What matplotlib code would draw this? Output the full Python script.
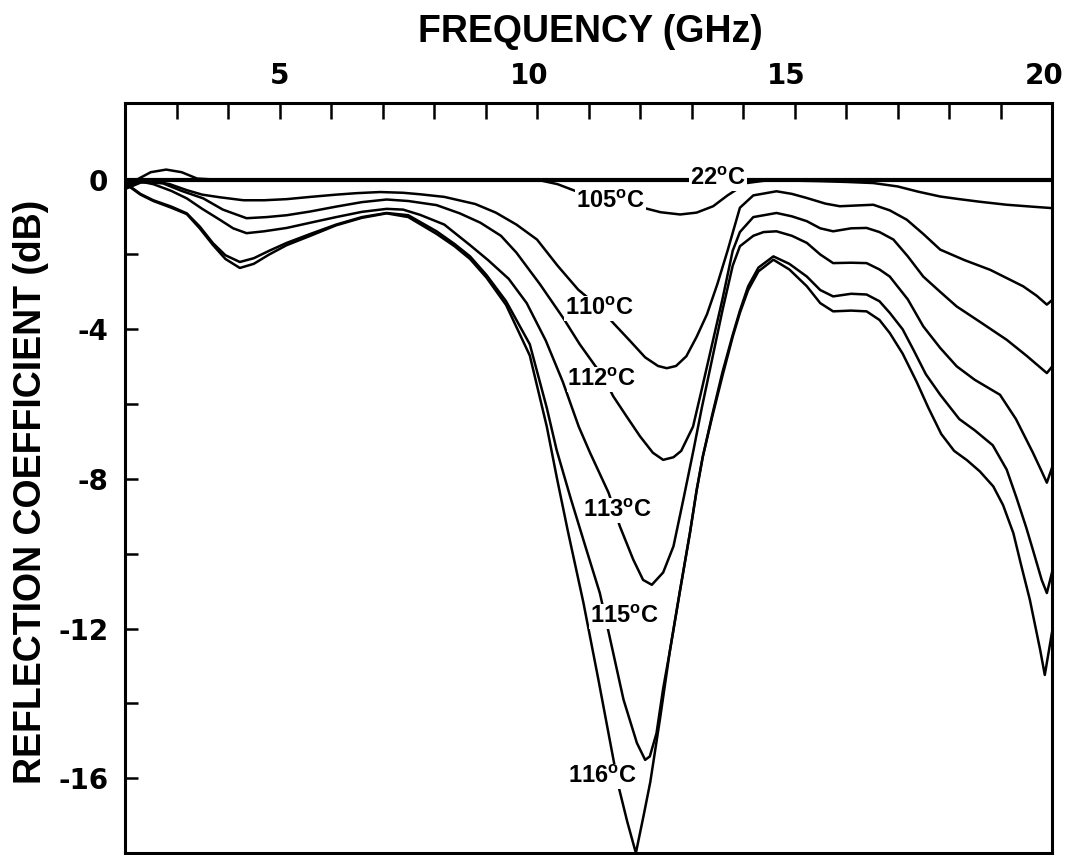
import matplotlib
matplotlib.use("Agg")
import matplotlib.pyplot as plt
import matplotlib.transforms as mtransforms
from matplotlib.ticker import FixedLocator, FixedFormatter, NullFormatter

plt.rcParams['mathtext.fontset'] = 'custom'
plt.rcParams['mathtext.rm'] = 'Liberation Sans'
plt.rcParams['mathtext.bf'] = 'Liberation Sans:bold'

# ---------------- data (frequency in GHz, reflection coefficient in dB) ----------------
f_22 = [2.0, 5.0, 10.0, 15.0, 20.0]
db_22 = [0.0, 0.0, 0.0, 0.0, 0.0]

f_105 = [2.0, 2.2, 2.5, 2.8, 3.1, 3.4, 3.8, 5.0, 7.0, 9.0, 9.8, 10.1, 10.4, 10.78, 11.1,
         11.42, 11.75, 12.06, 12.4, 12.78, 13.1, 13.42, 13.7, 14.07, 14.4, 14.8, 15.5,
         16.0, 16.53, 17.0, 17.4, 17.83, 18.2, 18.6, 19.12, 19.6, 20.0]
db_105 = [-0.15, -0.02, 0.2, 0.27, 0.2, 0.03, 0.0, 0.0, 0.0, 0.0, 0.0, -0.03, -0.12, -0.32,
          -0.44, -0.56, -0.66, -0.75, -0.87, -0.93, -0.88, -0.71, -0.42, -0.09, -0.03,
          -0.02, -0.04, -0.06, -0.09, -0.18, -0.32, -0.45, -0.52, -0.59, -0.67, -0.72, -0.76]

f_110 = [2.0, 2.3, 2.6, 2.87, 3.2, 3.5, 3.84, 4.3, 4.7, 5.14, 5.6, 6.1, 6.5, 6.95, 7.4,
         7.73, 8.2, 8.8, 9.2, 9.6, 10.0, 10.4, 10.8, 11.2, 11.48, 11.8, 12.1, 12.35, 12.52,
         12.7, 12.9, 13.1, 13.3, 13.5, 13.7, 13.94, 14.2, 14.65, 14.95, 15.24, 15.6, 15.88,
         16.2, 16.53, 16.85, 17.18, 17.5, 17.83, 18.3, 18.8, 19.44, 19.7, 19.9, 20.0]
db_110 = [-0.25, -0.08, -0.05, -0.12, -0.28, -0.4, -0.47, -0.55, -0.55, -0.52, -0.46, -0.4,
          -0.36, -0.33, -0.35, -0.39, -0.46, -0.65, -0.88, -1.2, -1.6, -2.3, -2.94, -3.4,
          -3.83, -4.3, -4.75, -4.98, -5.04, -4.98, -4.72, -4.2, -3.6, -2.8, -1.9, -0.75,
          -0.42, -0.31, -0.38, -0.49, -0.64, -0.71, -0.69, -0.67, -0.82, -1.07, -1.45,
          -1.87, -2.15, -2.41, -2.85, -3.1, -3.34, -3.22]

f_112 = [2.0, 2.3, 2.74, 3.1, 3.52, 3.9, 4.36, 4.75, 5.14, 5.6, 6.1, 6.6, 7.08, 7.5, 8.05,
         8.5, 8.9, 9.3, 9.6, 10.06, 10.51, 10.83, 11.09, 11.3, 11.48, 11.75, 12.0, 12.25,
         12.45, 12.65, 12.8, 13.03, 13.2, 13.4, 13.6, 13.8, 13.94, 14.2, 14.65, 14.95, 15.24,
         15.5, 15.75, 16.1, 16.4, 16.65, 16.92, 17.2, 17.5, 17.83, 18.15, 18.6, 19.12, 19.5,
         19.9, 20.0]
db_112 = [-0.18, -0.05, -0.1, -0.3, -0.5, -0.8, -1.03, -1.0, -0.95, -0.85, -0.72, -0.6,
          -0.53, -0.57, -0.68, -0.9, -1.15, -1.5, -1.95, -2.8, -3.7, -4.4, -4.9, -5.3, -5.79,
          -6.35, -6.86, -7.3, -7.49, -7.42, -7.25, -6.6, -5.6, -4.4, -3.2, -1.9, -1.4, -1.0,
          -0.89, -0.98, -1.11, -1.3, -1.38, -1.3, -1.29, -1.4, -1.6, -2.05, -2.59, -3.0,
          -3.39, -3.8, -4.28, -4.7, -5.17, -5.0]

f_113 = [2.0, 2.3, 2.55, 2.9, 3.2, 3.5, 3.84, 4.1, 4.36, 4.7, 5.14, 5.6, 6.1, 6.6, 7.08,
         7.4, 7.73, 8.2, 8.7, 9.05, 9.45, 9.8, 10.17, 10.5, 10.81, 11.03, 11.39, 11.61,
         11.87, 12.06, 12.23, 12.45, 12.65, 12.84, 13.04, 13.2, 13.4, 13.6, 13.8, 13.94,
         14.2, 14.4, 14.65, 14.95, 15.24, 15.5, 15.75, 16.1, 16.4, 16.65, 16.85, 17.2, 17.5,
         17.83, 18.15, 18.5, 18.99, 19.3, 19.63, 19.8, 19.9, 20.0]
db_113 = [-0.12, -0.05, -0.12, -0.3, -0.5, -0.78, -1.07, -1.3, -1.43, -1.38, -1.29, -1.15,
          -1.0, -0.86, -0.78, -0.8, -0.94, -1.2, -1.75, -2.15, -2.65, -3.3, -4.3, -5.4,
          -6.6, -7.3, -8.37, -9.27, -10.16, -10.7, -10.83, -10.5, -9.8, -8.56, -7.22, -6.1,
          -4.8, -3.5, -2.3, -1.78, -1.5, -1.4, -1.38, -1.5, -1.69, -2.0, -2.23, -2.22,
          -2.23, -2.4, -2.59, -3.2, -3.92, -4.5, -4.99, -5.35, -5.75, -6.4, -7.3, -7.8,
          -8.1, -7.7]

f_115 = [2.0, 2.1, 2.3, 2.55, 2.9, 3.2, 3.45, 3.71, 3.95, 4.23, 4.5, 4.8, 5.14, 5.6, 6.1,
         6.6, 7.08, 7.5, 8.05, 8.4, 8.7, 9.02, 9.4, 9.86, 10.19, 10.38, 10.65, 10.95, 11.22,
         11.38, 11.68, 11.94, 12.1, 12.19, 12.32, 12.45, 12.58, 12.78, 12.97, 13.1, 13.22,
         13.4, 13.6, 13.8, 13.94, 14.1, 14.3, 14.59, 14.9, 15.24, 15.5, 15.75, 16.1, 16.4,
         16.65, 16.85, 17.1, 17.31, 17.55, 17.83, 18.2, 18.5, 18.85, 19.12, 19.31, 19.5,
         19.63, 19.8, 19.9, 20.0]
db_115 = [-0.05, -0.18, -0.38, -0.55, -0.72, -0.9, -1.25, -1.7, -2.02, -2.2, -2.1, -1.9,
          -1.69, -1.45, -1.2, -1.0, -0.89, -0.95, -1.38, -1.72, -2.05, -2.55, -3.25, -4.4,
          -6.1, -7.22, -8.5, -9.85, -11.05, -12.03, -13.9, -15.06, -15.51, -15.42, -14.8,
          -13.6, -12.6, -10.96, -9.44, -8.3, -7.4, -6.3, -5.15, -4.15, -3.5, -2.85, -2.35,
          -2.05, -2.25, -2.59, -2.95, -3.12, -3.05, -3.07, -3.25, -3.56, -4.0, -4.55, -5.2,
          -5.75, -6.4, -6.7, -7.1, -7.75, -8.5, -9.3, -9.9, -10.7, -11.05, -10.5]

f_116 = [2.0, 2.1, 2.3, 2.55, 2.9, 3.2, 3.45, 3.71, 3.95, 4.23, 4.5, 4.8, 5.14, 5.6, 6.1,
         6.6, 7.08, 7.5, 8.05, 8.4, 8.7, 9.02, 9.4, 9.86, 10.19, 10.39, 10.6, 10.9, 11.19,
         11.45, 11.58, 11.75, 11.92, 12.07, 12.2, 12.39, 12.58, 12.78, 12.97, 13.1, 13.22,
         13.4, 13.6, 13.8, 13.94, 14.1, 14.3, 14.59, 14.9, 15.24, 15.5, 15.75, 16.1, 16.4,
         16.65, 16.85, 17.1, 17.37, 17.6, 17.85, 18.1, 18.35, 18.6, 18.86, 19.05, 19.25,
         19.4, 19.57, 19.77, 19.86, 20.0]
db_116 = [-0.05, -0.2, -0.4, -0.57, -0.75, -0.92, -1.3, -1.75, -2.12, -2.36, -2.25, -2.0,
          -1.75, -1.5, -1.22, -1.02, -0.9, -1.0, -1.45, -1.78, -2.12, -2.62, -3.35, -4.7,
          -6.6, -8.0, -9.4, -11.3, -13.35, -15.25, -16.2, -17.15, -18.0, -17.0, -16.1,
          -14.4, -12.6, -10.96, -9.44, -8.3, -7.4, -6.35, -5.25, -4.2, -3.56, -2.95, -2.45,
          -2.14, -2.4, -2.85, -3.3, -3.52, -3.5, -3.52, -3.75, -4.1, -4.65, -5.4, -6.1,
          -6.8, -7.25, -7.5, -7.8, -8.2, -8.7, -9.45, -10.3, -11.23, -12.57, -13.24, -12.1]

curve_labels = [r'22$^\mathbf{o}$C', r'105$^\mathbf{o}$C', r'110$^\mathbf{o}$C',
                r'112$^\mathbf{o}$C', r'113$^\mathbf{o}$C', r'115$^\mathbf{o}$C',
                r'116$^\mathbf{o}$C']
label_f = [13.51, 11.42, 11.22, 11.26, 11.57, 11.69, 11.28]
label_db = [0.03, -0.59, -3.45, -5.35, -8.85, -11.68, -15.96]

x_major = [5, 10, 15, 20]
x_major_labels = ['5', '10', '15', '20']
x_minor = [3, 4, 6, 7, 8, 9, 11, 12, 13, 14, 16, 17, 18, 19]
y_major = [0, -4, -8, -12, -16]
y_major_labels = ['0', '-4', '-8', '-12', '-16']
y_minor = [-2, -6, -10, -14]

# ---------------- figure ----------------
fig = plt.figure(figsize=(10.76, 8.55), dpi=100)
ax = fig.add_axes([125 / 1076, 2 / 855, 927 / 1076, 750 / 855])

ax.plot(f_22, db_22, color='black', lw=3.0, solid_capstyle='butt', zorder=3)
for f, d in [(f_105, db_105), (f_110, db_110), (f_112, db_112), (f_113, db_113),
             (f_115, db_115), (f_116, db_116)]:
    ax.plot(f, d, color='black', lw=1.8, solid_joinstyle='round', zorder=2)

for txt, lf, ld in zip(curve_labels, label_f, label_db):
    ax.text(lf, ld, txt, ha='center', va='center', fontsize=17, fontweight='bold',
            family='Liberation Sans', zorder=5,
            bbox=dict(facecolor='white', edgecolor='none', pad=0.6))

ax.set_xlim(2, 20)
ax.set_ylim(-18, 2.05)

for s in ax.spines.values():
    s.set_linewidth(2.2)

ax.xaxis.set_ticks_position('top')
ax.xaxis.set_label_position('top')
ax.xaxis.set_major_locator(FixedLocator(x_major))
ax.xaxis.set_major_formatter(FixedFormatter(x_major_labels))
ax.xaxis.set_minor_locator(FixedLocator(x_minor))
ax.tick_params(axis='x', which='both', direction='in', length=11.5, width=1.8,
               top=True, bottom=False, pad=9)
ax.tick_params(axis='x', which='major', labelsize=20)

ax.yaxis.set_major_locator(FixedLocator(y_major))
ax.yaxis.set_major_formatter(FixedFormatter(y_major_labels))
ax.yaxis.set_minor_locator(FixedLocator(y_minor))
ax.yaxis.set_minor_formatter(NullFormatter())
ax.tick_params(axis='y', which='both', direction='in', length=9.5, width=1.8,
               left=True, right=False, pad=12)
ax.tick_params(axis='y', which='major', labelsize=20)

for lab in ax.get_xticklabels() + ax.get_yticklabels():
    lab.set_fontweight('bold')
    lab.set_family('DejaVu Sans')

# small leftward shift of two-digit frequency labels, as in the original
for lab in ax.get_xticklabels():
    if len(lab.get_text()) > 1:
        lab.set_transform(lab.get_transform() +
                          mtransforms.ScaledTranslation(-8 / 100, 0, fig.dpi_scale_trans))

fig.text(590 / 1076, 1 - 32 / 855, 'FREQUENCY (GHz)', ha='center', va='center',
         fontsize=27, fontweight='bold', family='Liberation Sans')
fig.text(31 / 1076, 1 - 492 / 855, 'REFLECTION COEFFICIENT (dB)', ha='center',
         va='center', rotation=90, fontsize=27, fontweight='bold',
         family='Liberation Sans')

fig.savefig('out.png', dpi=100)
